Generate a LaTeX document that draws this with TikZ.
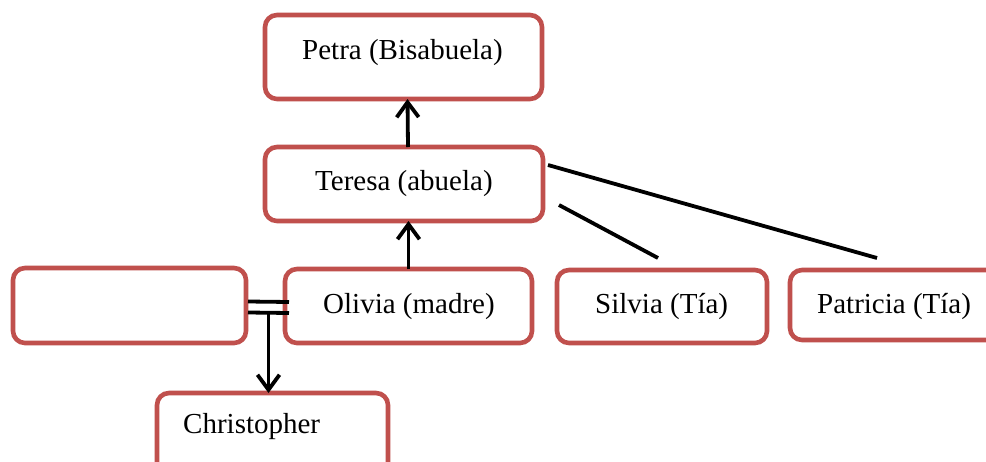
\documentclass[tikz,border=0pt]{standalone}
\usepackage{fontspec}
\setmainfont{Liberation Serif}
\usetikzlibrary{arrows.meta}
\definecolor{boxred}{HTML}{C0504D}
\begin{document}
\begin{tikzpicture}[x=1pt,y=-1pt,
  person/.style={draw=boxred, line width=4.6pt, rounded corners=12pt, fill=white,
    inner sep=0pt, outer sep=0pt},
  personlabel/.style={font=\fontsize{29}{32}\selectfont, inner sep=0pt, anchor=base west},
  link/.style={line width=3.8pt, black},
  parentarrow/.style={-{Straight Barb[length=15pt,width=22pt,line width=3.8pt]}}]
\useasboundingbox (0,0) rectangle (986,461);
\fill[white] (0,0) rectangle (986,461);

% boxes
\node[person, minimum width=277pt, minimum height=84pt] (petra)   at (403.5,57)  {};
\node[person, minimum width=278pt, minimum height=74pt] (teresa)  at (404,184)   {};
\node[person, minimum width=247pt, minimum height=74pt] (olivia)  at (408.5,306) {};
\node[person, minimum width=233pt, minimum height=75pt] (partner) at (129.5,305.5) {};
\node[person, minimum width=210pt, minimum height=73pt] (silvia)  at (662,306.5) {};
\node[person, minimum width=210pt, minimum height=70pt] (patricia) at (895,305)  {};
\node[person, minimum width=231pt, minimum height=84pt] (chris)   at (272.5,435) {};

% names
\node[personlabel] (tpetra)    at (302,59)  {Petra (Bisabuela)};
\node[personlabel] (tteresa)   at (315,190) {Teresa (abuela)};
\node[personlabel] (tolivia)   at (323,313) {Olivia (madre)};
\node[personlabel] (tsilvia)   at (595,313) {Silvia (Tía)};
\node[personlabel] (tpatricia) at (817,313) {Patricia (Tía)};
\node[personlabel] (tchris)    at (183,433) {Christopher};

% parent links
\draw[link, parentarrow] ([xshift=4pt]teresa.north) -- ([xshift=4pt]petra.south);
\draw[link, parentarrow] (olivia.north) -- (olivia.north |- teresa.south);

% siblings of Olivia
\draw[link] ([xshift=5pt,yshift=19pt]teresa.east) -- ([xshift=-18pt,yshift=12pt]patricia.north);
\draw[link] ([xshift=16pt,yshift=-21pt]teresa.east) -- ([xshift=-4pt,yshift=12pt]silvia.north);

% couple and child
\draw[link] ([xshift=2pt,yshift=4pt]partner.east) -- ([xshift=4pt,yshift=4pt]olivia.west);
\draw[link] ([xshift=2pt,yshift=-7pt]partner.east) -- coordinate[pos=0.5] (m) ([xshift=4pt,yshift=-7pt]olivia.west);
\draw[link, parentarrow] (m) -- (m |- chris.north);
\end{tikzpicture}
\end{document}
